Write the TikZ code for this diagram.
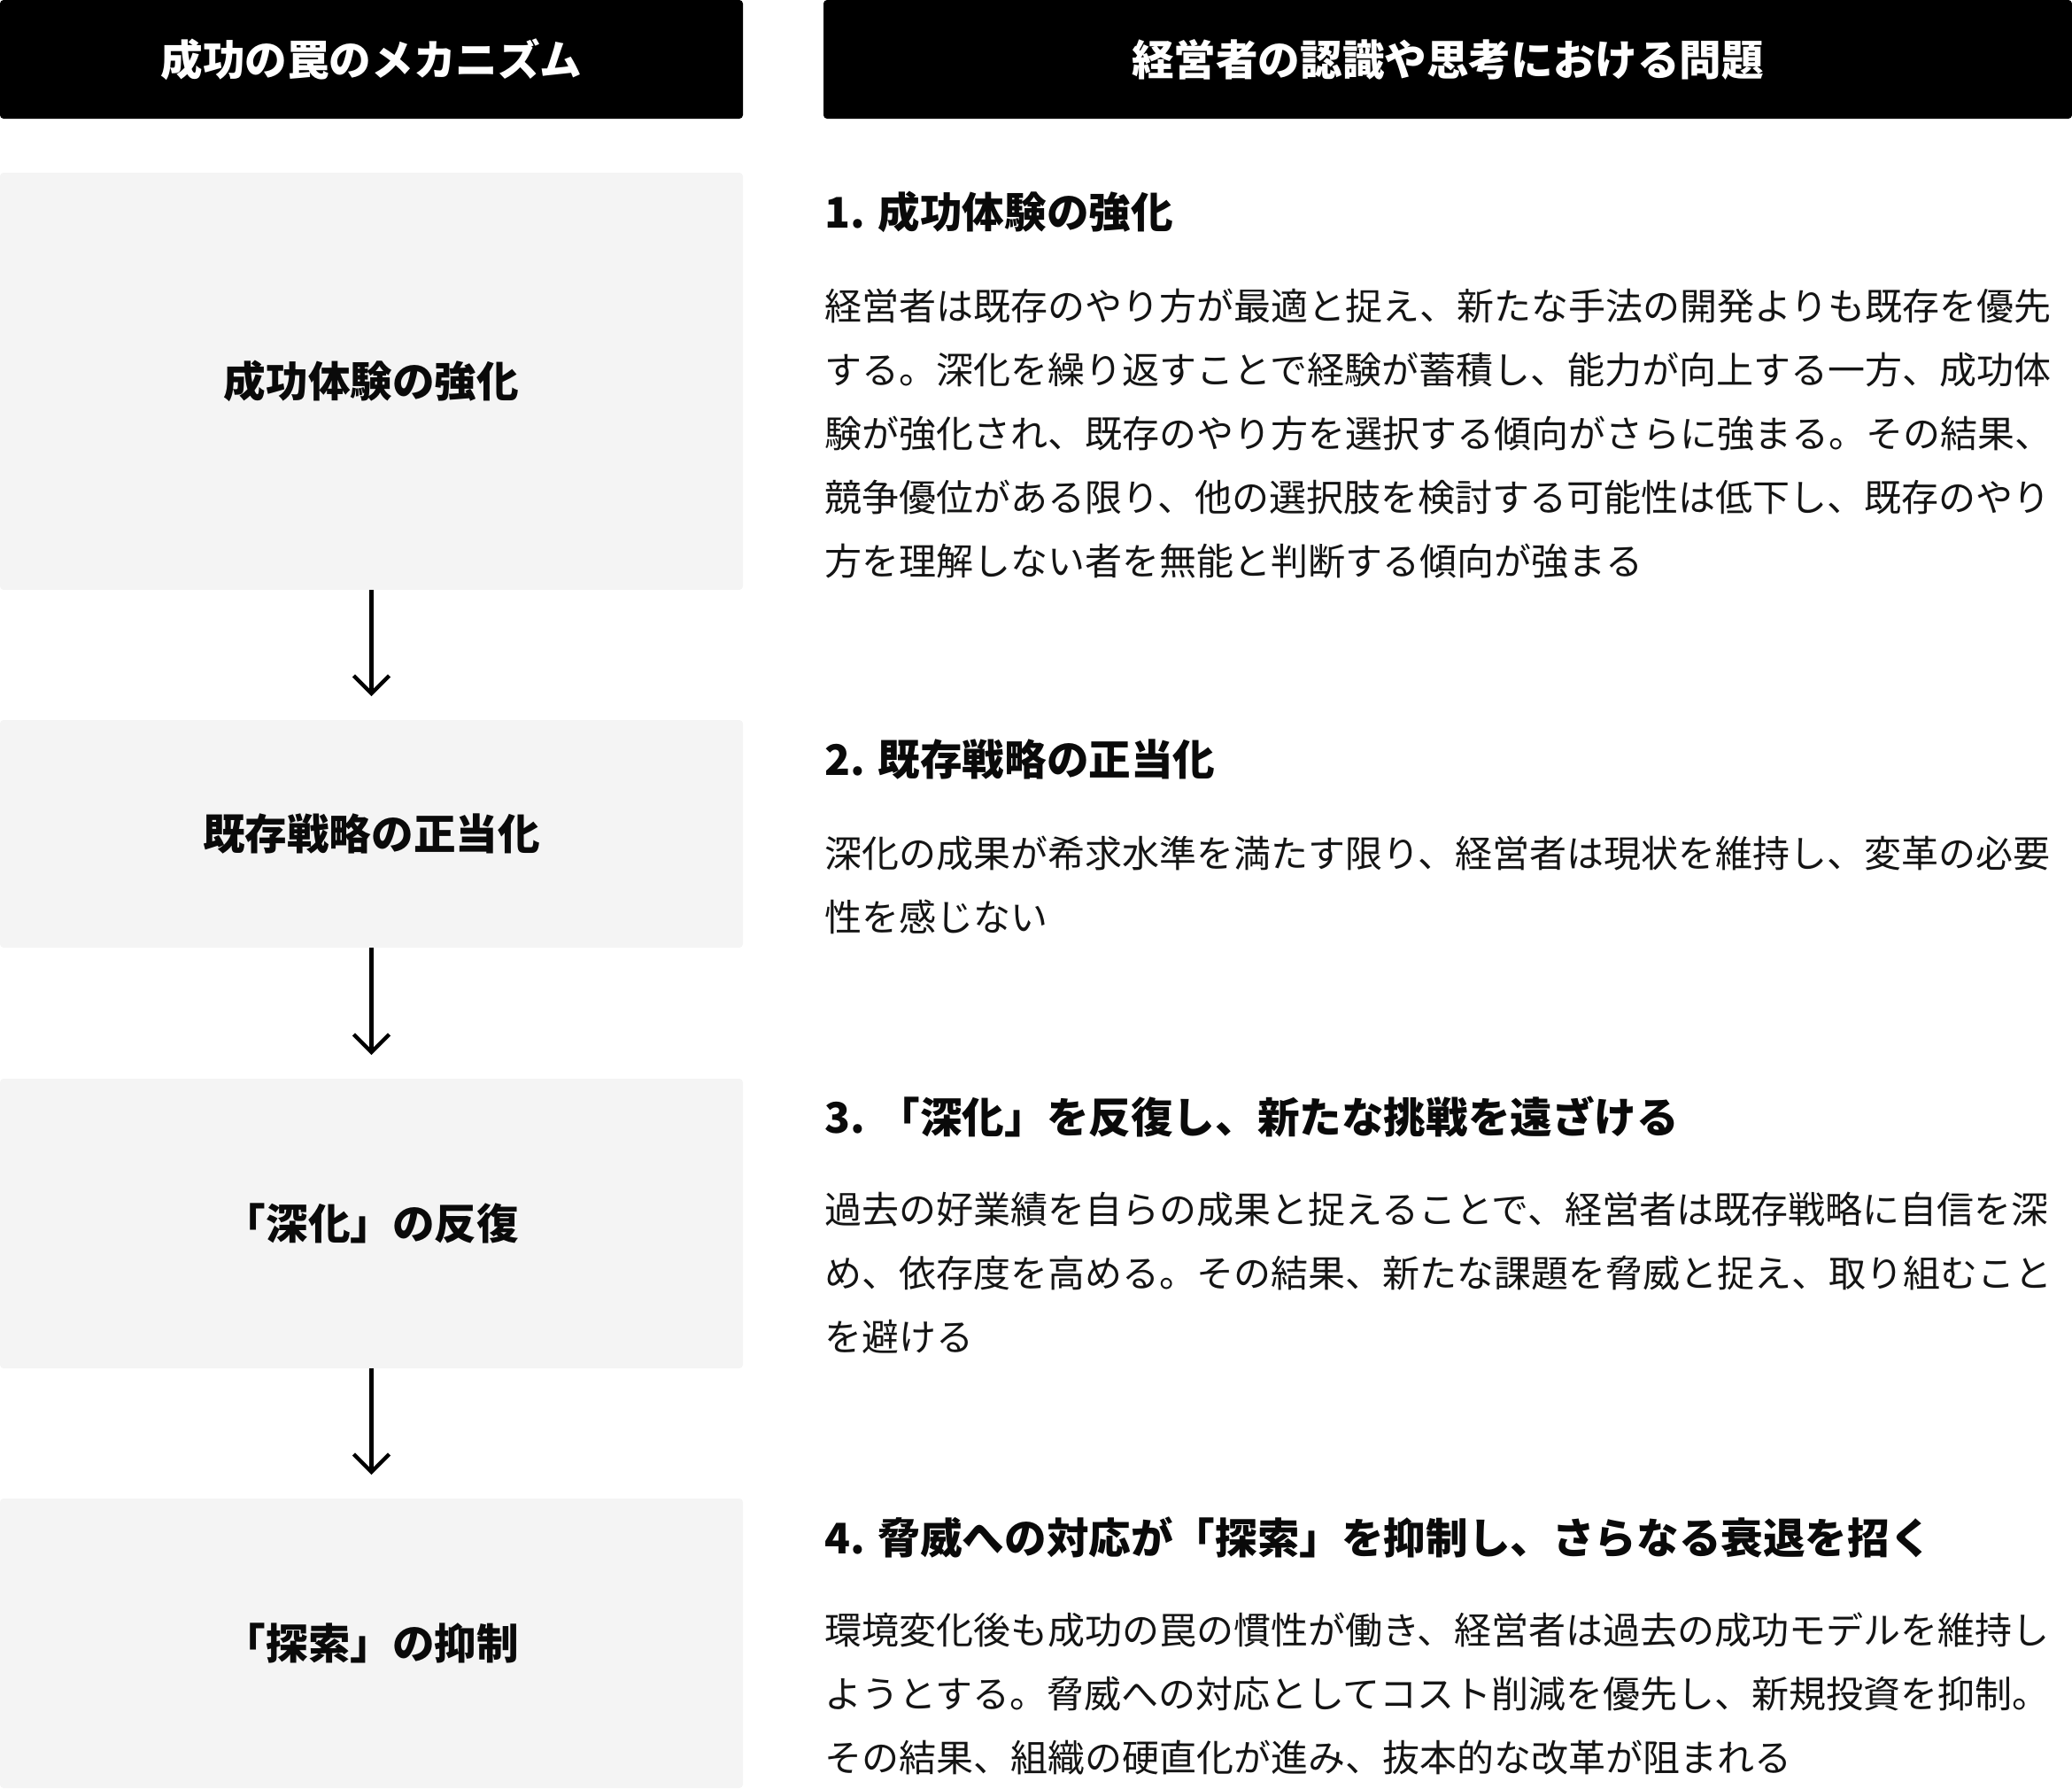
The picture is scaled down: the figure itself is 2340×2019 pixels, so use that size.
\documentclass[tikz,border=0pt]{standalone}
\usepackage{fontspec}
\setmainfont{Noto Sans CJK JP}
\usetikzlibrary{arrows.meta}

\definecolor{boxgray}{HTML}{F4F4F4}
\definecolor{bodytext}{HTML}{141414}
\definecolor{titletext}{HTML}{0A0A0A}

\begin{document}
\begin{tikzpicture}[x=0.5pt, y=-0.5pt,
    colhead/.style={fill=black, text=white, font=\fontsize{23.8}{28}\selectfont\bfseries,
        minimum height=67pt, rounded corners=2pt, inner sep=0pt, outer sep=0pt},
    mech/.style={fill=boxgray, text=titletext, font=\fontsize{23.8}{28}\selectfont\bfseries,
        minimum width=419.5pt, rounded corners=2pt, inner sep=0pt, outer sep=0pt},
    itemtitle/.style={anchor=base west, inner sep=0pt, text=titletext,
        font=\fontsize{23.8}{28}\selectfont\bfseries},
    % base of a multi-line node = baseline of its last line
    itembody/.style={anchor=base west, inner sep=0pt, align=left, text=bodytext,
        font=\fontsize{21}{36}\selectfont},
    flow/.style={-{Straight Barb[length=10pt, width=20pt]}, line width=2.2pt, shorten >=13.5pt}
]
    \useasboundingbox (0,0) rectangle (2340,2019);

    % column headers
    \node[colhead, minimum width=419.5pt] (hd_m) at (419.5,67) {成功の罠のメカニズム};
    \node[colhead, minimum width=705pt] (hd_p) at (1635,67) {経営者の認識や思考における問題};

    % mechanism boxes
    \node[mech, minimum height=235.5pt] (m_1) at (419.5,430.5) {成功体験の強化};
    \node[mech, minimum height=128.5pt] (m_2) at (419.5,941.5) {既存戦略の正当化};
    \node[mech, minimum height=163.5pt] (m_3) at (419.5,1381.5) {「深化」の反復};
    \node[mech, minimum height=163.5pt] (m_4) at (419.5,1855.5) {「探索」の抑制};

    \draw[flow] (m_1) -- (m_2);
    \draw[flow] (m_2) -- (m_3);
    \draw[flow] (m_3) -- (m_4);

    % problems
    \node[itemtitle] (t_1) at (931,257) {1. 成功体験の強化};
    \node[itembody] (p_1) at (931,649) {経営者は既存のやり方が最適と捉え、新たな手法の開発よりも既存を優先\\
        する。深化を繰り返すことで経験が蓄積し、能力が向上する一方、成功体\\
        験が強化され、既存のやり方を選択する傾向がさらに強まる。その結果、\\
        競争優位がある限り、他の選択肢を検討する可能性は低下し、既存のやり\\
        方を理解しない者を無能と判断する傾向が強まる};

    \node[itemtitle] (t_2) at (931,875) {2. 既存戦略の正当化};
    \node[itembody] (p_2) at (931,1051) {深化の成果が希求水準を満たす限り、経営者は現状を維持し、変革の必要\\
        性を感じない};

    \node[itemtitle] (t_3) at (931,1279) {3. 「深化」を反復し、新たな挑戦を遠ざける};
    \node[itembody] (p_3) at (931,1525) {過去の好業績を自らの成果と捉えることで、経営者は既存戦略に自信を深\\
        め、依存度を高める。その結果、新たな課題を脅威と捉え、取り組むこと\\
        を避ける};

    \node[itemtitle] (t_4) at (931,1754) {4. 脅威への対応が「探索」を抑制し、さらなる衰退を招く};
    \node[itembody] (p_4) at (931,2000) {環境変化後も成功の罠の慣性が働き、経営者は過去の成功モデルを維持し\\
        ようとする。脅威への対応としてコスト削減を優先し、新規投資を抑制。\\
        その結果、組織の硬直化が進み、抜本的な改革が阻まれる};
\end{tikzpicture}
\end{document}
